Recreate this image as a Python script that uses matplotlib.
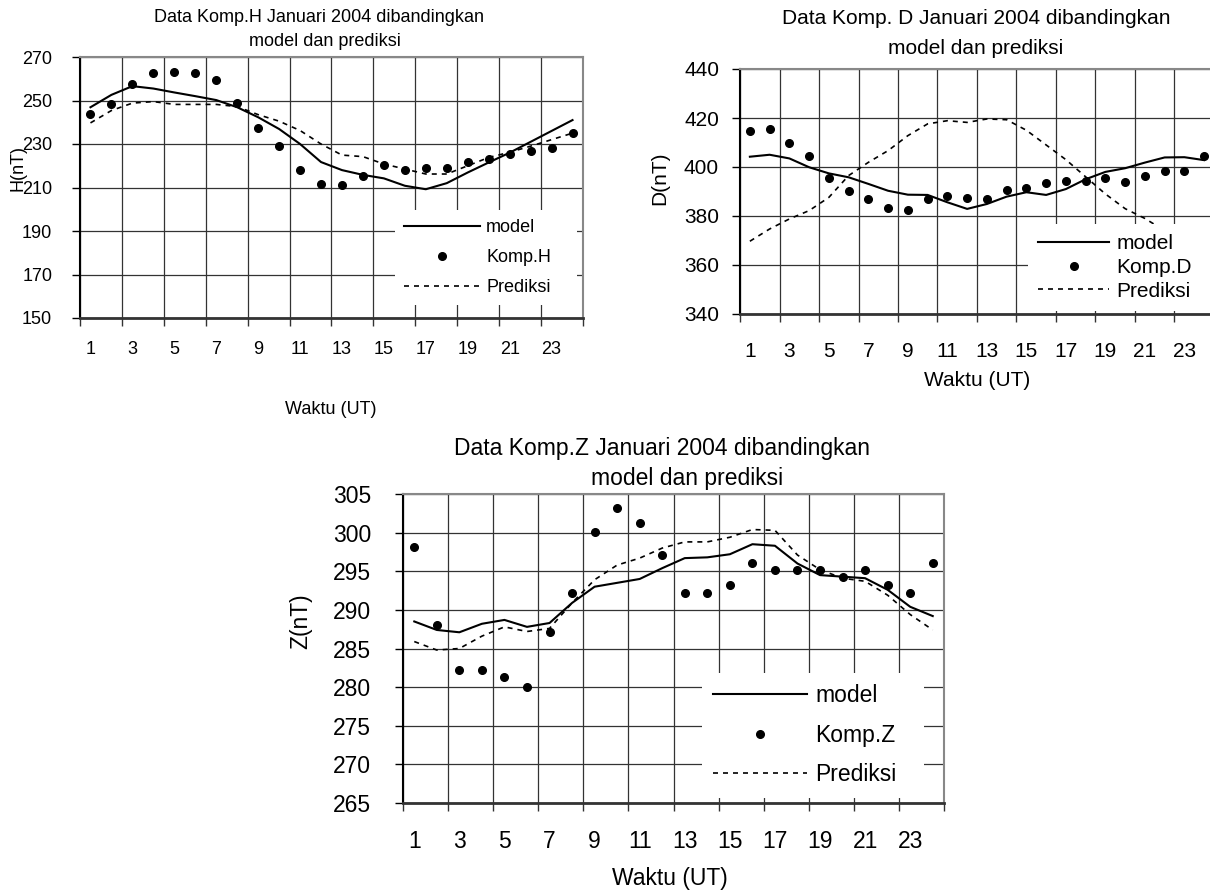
import matplotlib.pyplot as plt
import numpy as np

plt.rcParams['font.family'] = ['Liberation Sans', 'DejaVu Sans']

jam = np.arange(1, 25)
label_jam = [str(j) for j in range(1, 24, 2)]

# Komponen H (nT)
h_data = [243.8, 248.2, 257.4, 262.5, 263.1, 262.5, 259.4, 248.9, 237.4, 228.9, 218.2, 211.7,
          211.2, 215.4, 220.5, 218.2, 218.9, 218.9, 221.8, 223.2, 225.5, 226.8, 228.0, 235.0]
h_model = [246.9, 252.6, 256.6, 255.5, 253.7, 252.0, 250.2, 246.9, 242.3, 236.9, 230.0, 221.7,
           218.0, 215.8, 214.2, 210.8, 209.2, 212.0, 216.9, 221.5, 226.0, 231.0, 236.0, 241.0]
h_prediksi = [239.7, 245.4, 248.8, 249.5, 248.2, 248.2, 248.2, 247.2, 243.5, 240.5, 236.2, 230.0,
              224.9, 224.2, 220.8, 218.5, 216.2, 216.2, 220.0, 223.8, 226.2, 229.0, 232.0, 235.0]

# Komponen D (nT)
d_data = [414.7, 415.5, 409.7, 404.6, 395.5, 390.3, 386.8, 383.1, 382.3, 386.8, 388.3, 387.5,
          386.8, 390.5, 391.5, 393.5, 394.1, 394.1, 395.6, 393.9, 396.4, 398.4, 398.4, 404.5]
d_model = [404.2, 405.0, 403.5, 399.9, 397.4, 395.8, 393.1, 390.3, 388.7, 388.6, 385.6, 382.9,
           384.9, 387.9, 389.7, 388.6, 391.0, 395.0, 398.0, 399.5, 401.8, 403.9, 404.0, 402.8]
d_prediksi = [369.7, 374.7, 378.8, 382.2, 387.6, 396.5, 401.9, 406.7, 412.8, 417.6, 418.9, 418.2,
              419.6, 419.3, 415.0, 409.0, 403.0, 396.0, 389.0, 383.0, 379.0, 374.0, 371.0, 369.0]

# Komponen Z (nT)
z_data = [298.1, 288.1, 282.2, 282.2, 281.25, 280.0, 287.1, 292.2, 300.1, 303.2, 301.3, 297.1,
          292.2, 292.2, 293.2, 296.1, 295.1, 295.1, 295.1, 294.2, 295.1, 293.2, 292.2, 296.1]
z_model = [288.5, 287.4, 287.1, 288.2, 288.7, 287.8, 288.3, 290.9, 293.0, 293.5, 294.0, 295.4,
           296.7, 296.8, 297.2, 298.5, 298.3, 296.0, 294.5, 294.3, 294.1, 292.6, 290.4, 289.2]
z_prediksi = [285.9, 284.8, 285.0, 286.6, 287.8, 287.2, 287.6, 290.9, 293.9, 295.8, 296.7, 298.0,
              298.8, 298.8, 299.4, 300.4, 300.3, 297.1, 295.2, 294.1, 293.7, 291.9, 289.4, 287.4]

W, H = 1210, 892
fig = plt.figure(figsize=(W / 100, H / 100), dpi=100)


def kotak(x0, y0, x1, y1):
    return [x0 / W, 1 - y1 / H, (x1 - x0) / W, (y1 - y0) / H]


def teks(x, y, s, size, rot=0):
    fig.text(x / W, 1 - y / H, s, fontsize=size, ha='center', va='center', rotation=rot)


def gambar(rect, data, model, prediksi, nama, ylim, ystep, fs, ypad, xpad, leg):
    ax = fig.add_axes(rect)
    ax.plot(jam, model, color='black', lw=1.5, label='model')
    ax.plot(jam, data, 'o', color='black', ms=5.5, label=nama)
    ax.plot(jam, prediksi, color='black', lw=1.2, ls=(0, (3, 3)), label='Prediksi')
    ax.set_xlim(0.5, 24.5)
    ax.set_ylim(*ylim)
    ax.set_yticks(np.arange(ylim[0], ylim[1] + 1, ystep))
    ax.set_xticks(np.arange(0.5, 25, 2))
    ax.set_xticklabels([])
    ax.set_xticks(np.arange(1, 24, 2), minor=True)
    ax.set_xticklabels(label_jam, minor=True)
    ax.tick_params(axis='x', which='major', length=5.8, width=1, color='#333333')
    ax.tick_params(axis='x', which='minor', length=0, pad=xpad, labelsize=fs)
    ax.tick_params(axis='y', length=5.8, width=1, pad=ypad, labelsize=fs)
    ax.grid(True, which='major', color='#333333', lw=0.9)
    ax.set_axisbelow(True)
    ax.spines['left'].set_linewidth(1.5)
    ax.spines['bottom'].set_linewidth(2)
    ax.spines['bottom'].set_color('#333333')
    for s in ['top', 'right']:
        ax.spines[s].set_color('#888888')
        ax.spines[s].set_linewidth(1.5)
    # kotak legenda putih (x0, y0, x1, y1 dalam piksel)
    x0, y0, x1, y1, hl, ls = leg
    ax.legend(loc='upper left', bbox_to_anchor=(x0 / W, 1 - y1 / H, (x1 - x0) / W, (y1 - y0) / H),
              bbox_transform=fig.transFigure, mode='expand',
              fancybox=False, edgecolor='none', facecolor='white', framealpha=1, fontsize=fs,
              handlelength=hl, handletextpad=0.35, labelspacing=ls, borderpad=0.5,
              borderaxespad=0, numpoints=1)
    return ax


gambar(kotak(80, 57, 583, 318), h_data, h_model, h_prediksi, 'Komp.H', (150, 270), 20,
       13, 14.2, 16.3, (395, 210, 577, 307, 4.2, 0.72))
teks(319, 17, 'Data Komp.H Januari 2004 dibandingkan', 13)
teks(325, 42, 'model dan prediksi', 13)
teks(18, 168, 'H(nT)', 13, 90)
teks(331, 410, 'Waktu (UT)', 13)

gambar(kotak(740, 69, 1214, 314), d_data, d_model, d_prediksi, 'Komp.D', (340, 440), 20,
       15, 9.3, 20, (1028, 224, 1214, 298, 3.4, 0.22))
teks(976, 18, 'Data Komp. D Januari 2004 dibandingkan', 15)
teks(976, 48, 'model dan prediksi', 15)
teks(660, 178, 'D(nT)', 15, 90)
teks(977, 380, 'Waktu (UT)', 15)

gambar(kotak(403, 494, 944, 803), z_data, z_model, z_prediksi, 'Komp.Z', (265, 305), 5,
       16.5, 17.2, 19.4, (702, 673, 924, 792, 4.1, 0.72))
teks(662, 448, 'Data Komp.Z Januari 2004 dibandingkan', 16.5)
teks(687, 478, 'model dan prediksi', 16.5)
teks(301, 621, 'Z(nT)', 16.5, 90)
teks(670, 878, 'Waktu (UT)', 16.5)

plt.savefig('out.png', dpi=100)
